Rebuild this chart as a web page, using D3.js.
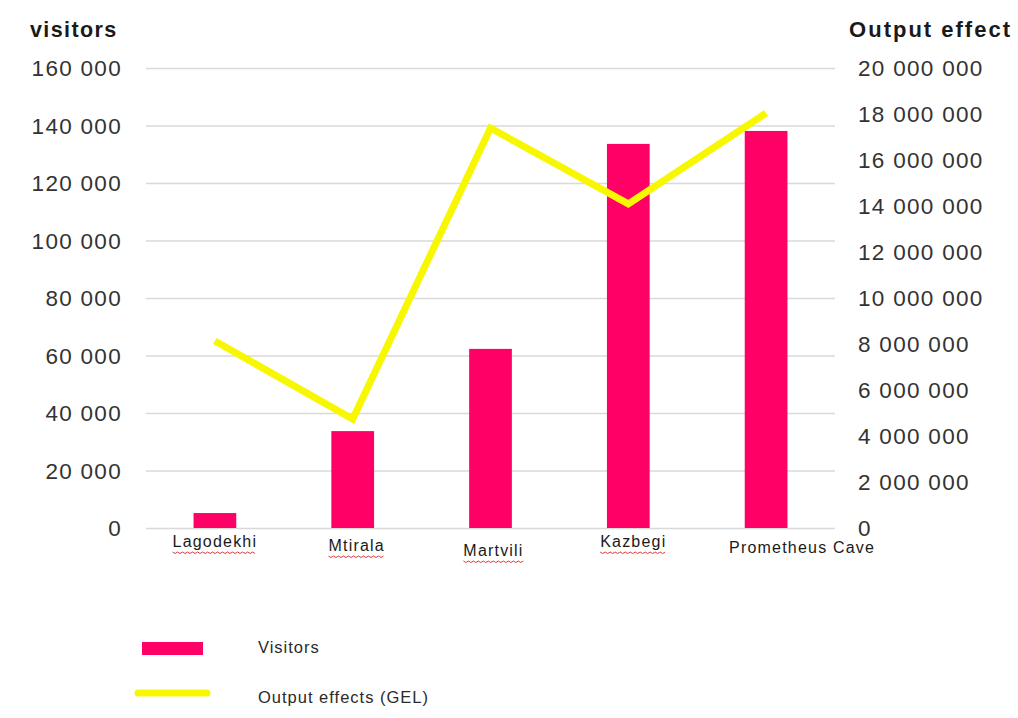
<!DOCTYPE html>
<html>
<head>
<meta charset="utf-8">
<script src="https://cdn.jsdelivr.net/npm/d3@7"></script>
<style>
  body { margin: 0; background: #fff; }
  text { font-family: "Liberation Sans", Arial, sans-serif; }
  .grid line { stroke: #d9d9d9; stroke-width: 1.5; }
  .grid path { display: none; }
</style>
</head>
<body>
<div id="chart"></div>
<script>
// data
var parks = ["Lagodekhi", "Mtirala", "Martvili", "Kazbegi", "Prometheus Cave"];
var visitors = [5200, 33700, 62300, 133600, 138100];
var outputEffect = [8130000, 4740000, 17390000, 14090000, 18040000];
var visitorTicks = [0, 20000, 40000, 60000, 80000, 100000, 120000, 140000, 160000];
var effectTicks = [0, 2000000, 4000000, 6000000, 8000000, 10000000, 12000000, 14000000, 16000000, 18000000, 20000000];
var legendLabels = ["Visitors", "Output effects (GEL)"];
// the park names sit a bit off their bars in the original
var labelShift = [[0, 0], [4, 4], [3, 9], [5, 0], [36, 6]];
var spellChecked = [true, true, true, true, false];

var width = 1018, height = 718;
var barColor = "#ff0066", lineColor = "#f7f700";

var svg = d3.select("#chart")
    .append("svg")
    .attr("width", width)
    .attr("height", height);

// scales
var x = d3.scaleBand()
    .domain(parks)
    .range([146, 835])
    .paddingInner(0.69)
    .paddingOuter(0.345);

var yLeft = d3.scaleLinear()
    .domain([0, 160000])
    .range([528, 68]);

var yRight = d3.scaleLinear()
    .domain([0, 20000000])
    .range([528, 68]);

// spaces as thousand separators
var fmt = function (d) { return d3.format(",")(d).replace(/,/g, " "); };

// gridlines from the left axis
svg.append("g")
    .attr("class", "grid")
    .attr("transform", "translate(146,0)")
    .call(d3.axisLeft(yLeft)
        .tickValues(visitorTicks)
        .tickSize(-(835 - 146))
        .tickFormat("")
    )

// left tick labels
svg.append("g")
    .selectAll("text")
    .data(visitorTicks)
    .enter()
    .append("text")
    .attr("x", 122)
    .attr("y", function (d) { return yLeft(d); })
    .attr("dy", "0.36em")
    .attr("text-anchor", "end")
    .style("font-size", "22.5px")
    .style("letter-spacing", "1.3px")
    .style("fill", "#333")
    .text(fmt);

// right tick labels
svg.append("g")
    .selectAll("text")
    .data(effectTicks)
    .enter()
    .append("text")
    .attr("x", 858)
    .attr("y", function (d) { return yRight(d); })
    .attr("dy", "0.34em")
    .style("font-size", "22.5px")
    .style("letter-spacing", "1.3px")
    .style("fill", "#333")
    .text(fmt);

// axis titles
svg.append("text")
    .attr("x", 30)
    .attr("y", 37)
    .style("font-size", "21.5px")
    .style("font-weight", "bold")
    .style("letter-spacing", "1.4px")
    .style("fill", "#1a1a1a")
    .text("visitors");

svg.append("text")
    .attr("x", 1012)
    .attr("y", 37)
    .attr("text-anchor", "end")
    .style("font-size", "22px")
    .style("font-weight", "bold")
    .style("letter-spacing", "2px")
    .style("fill", "#1a1a1a")
    .text("Output effect");

// bars
svg.selectAll(".bar")
    .data(parks)
    .enter()
    .append("rect")
    .attr("class", "bar")
    .attr("x", function (d) { return x(d); })
    .attr("width", x.bandwidth())
    .attr("y", function (d, i) { return yLeft(visitors[i]); })
    .attr("height", function (d, i) { return yLeft(0) - yLeft(visitors[i]); })
    .attr("fill", barColor);

// output effect line
svg.append("path")
    .datum(parks)
    .attr("fill", "none")
    .attr("stroke", lineColor)
    .attr("stroke-width", 7)
    .attr("stroke-linejoin", "miter")
    .attr("d", d3.line()
        .x(function (d) { return x(d) + x.bandwidth() / 2; })
        .y(function (d, i) { return yRight(outputEffect[i]); })
    );

// category labels
var labels = svg.append("g")
    .selectAll("text")
    .data(parks)
    .enter()
    .append("text")
    .attr("x", function (d, i) { return x(d) + x.bandwidth() / 2 + labelShift[i][0]; })
    .attr("y", function (d, i) { return 547 + labelShift[i][1]; })
    .attr("text-anchor", "middle")
    .style("font-size", "16px")
    .style("letter-spacing", "1.2px")
    .style("fill", "#1a1a1a")
    .text(function (d) { return d; });

// red squiggles under the spell-checked names
labels.each(function (d, i) {
    if (!spellChecked[i]) return;
    var b = this.getBBox();
    var pts = [];
    var y0 = b.y + b.height + 2;
    for (var k = 0; b.x + k * 2.5 <= b.x + b.width; k++) {
        pts.push([b.x + k * 2.5, y0 + (k % 2 ? 1.5 : 0)]);
    }
    svg.append("path")
        .attr("d", d3.line()(pts))
        .attr("fill", "none")
        .attr("stroke", "#e23b3b")
        .attr("stroke-width", 1);
});

// legend
var legend = svg.append("g");

legend.append("rect")
    .attr("x", 142)
    .attr("y", 642)
    .attr("width", 61)
    .attr("height", 13)
    .attr("fill", barColor);

legend.append("line")
    .attr("x1", 138)
    .attr("x2", 207)
    .attr("y1", 693)
    .attr("y2", 693)
    .attr("stroke", lineColor)
    .attr("stroke-width", 7)
    .attr("stroke-linecap", "round");

legend.selectAll("text")
    .data(legendLabels)
    .enter()
    .append("text")
    .attr("x", 258)
    .attr("y", function (d, i) { return 653 + i * 50; })
    .style("font-size", "16.5px")
    .style("letter-spacing", "1px")
    .style("fill", "#2a2a2a")
    .text(function (d) { return d; });
</script>
</body>
</html>
